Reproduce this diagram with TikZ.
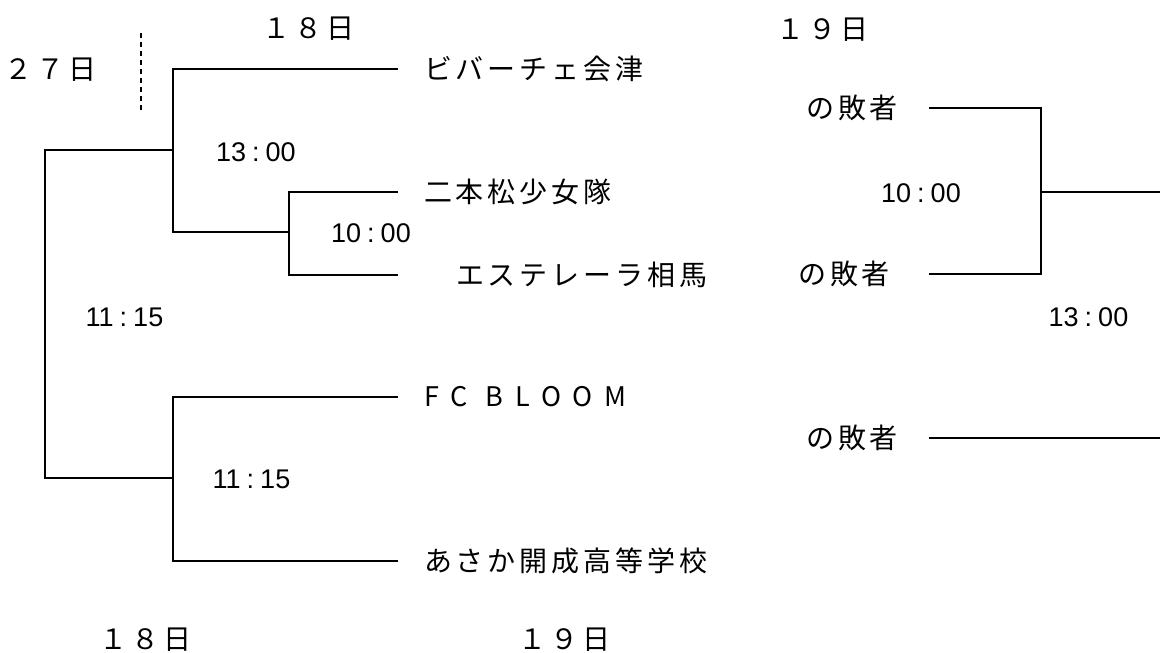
\documentclass[tikz,border=0pt]{standalone}
\usepackage{fontspec}
\newfontfamily\jpteam[LetterSpace=14]{Noto Sans CJK JP}
\newfontfamily\jpfc[LetterSpace=44]{Noto Sans CJK JP}
\newfontfamily\latime{Liberation Sans}
\newcommand{\tm}[2]{#1\kern6pt:\kern6pt#2}
\tikzset{
  br/.style={line width=1.6pt, line join=miter},
  dashline/.style={line width=1.8pt, dash pattern=on 5pt off 4pt},
  team/.style={anchor=west, inner sep=0pt, outer xsep=26pt, outer ysep=0pt,
    font=\jpteam\fontsize{28}{32}\selectfont},
  fcteam/.style={team, font=\jpfc\fontsize{27}{32}\selectfont},
  loser/.style={anchor=east, inner sep=0pt, outer xsep=31pt, outer ysep=0pt,
    font=\jpteam\fontsize{28}{32}\selectfont},
  datelbl/.style={anchor=west, inner sep=0pt, font=\jpteam\fontsize{28}{32}\selectfont},
  timelbl/.style={anchor=center, inner sep=0pt, font=\latime\fontsize{27}{32}\selectfont},
}
\begin{document}
\begin{tikzpicture}[x=1pt,y=-1pt]
\useasboundingbox (0,0) rectangle (1160,653);
% dates
\node[datelbl] (d27) at (4,70) {２７日};
\node[datelbl] (d18t) at (262,29) {１８日};
\node[datelbl] (d19t) at (776,30) {１９日};
\node[datelbl] (d18b) at (99,640) {１８日};
\node[datelbl] (d19b) at (518,640) {１９日};
% teams
\node[team] (t1) at (398,69) {ビバーチェ会津};
\node[team] (t2) at (398,192) {二本松少女隊};
\node[team, outer xsep=58pt] (t3) at (398,275) {エステレーラ相馬};
\node[fcteam] (t4) at (398,397) {FC BLOOM};
\node[team] (t5) at (398,561) {あさか開成高等学校};
% losers
\node[loser] (l1) at (929,108) {の敗者};
\node[loser, outer xsep=39pt] (l2) at (929,274) {の敗者};
\node[loser] (l3) at (929,438) {の敗者};
% times
\node[timelbl] (k1) at (256,152) {\tm{13}{00}};
\node[timelbl] (k2) at (371,233) {\tm{10}{00}};
\node[timelbl] (k3) at (124.5,317) {\tm{11}{15}};
\node[timelbl] (k4) at (251.5,479) {\tm{11}{15}};
\node[timelbl] (k5) at (921,193) {\tm{10}{00}};
\node[timelbl] (k6) at (1088.5,317) {\tm{13}{00}};
% junctions
\coordinate (qa) at (173,232);
\coordinate (qb) at (289,232);
\coordinate (oa) at (173,150);
\coordinate (ox) at (45,314);
\coordinate (ob) at (173,478);
\coordinate (rj) at (1041,192);
\coordinate (rend) at (1160,192);
\coordinate (rend3) at (1160,438);
\coordinate (dtop) at (141,33);
\coordinate (dbot) at (141,110);
% brackets
\draw[br] (t1.west) -| (qa) -- (qb);
\draw[br] (t2.west) -| (qb) |- (t3.west);
\draw[br] (oa) -| (ox) |- (ob);
\draw[br] (t4.west) -| (ob) |- (t5.west);
\draw[br] (l1.east) -| (rj) |- (l2.east);
\draw[br] (rj) -- (rend);
\draw[br] (l3.east) -- (rend3);
\draw[dashline] (dtop) -- (dbot);
\end{tikzpicture}
\end{document}
